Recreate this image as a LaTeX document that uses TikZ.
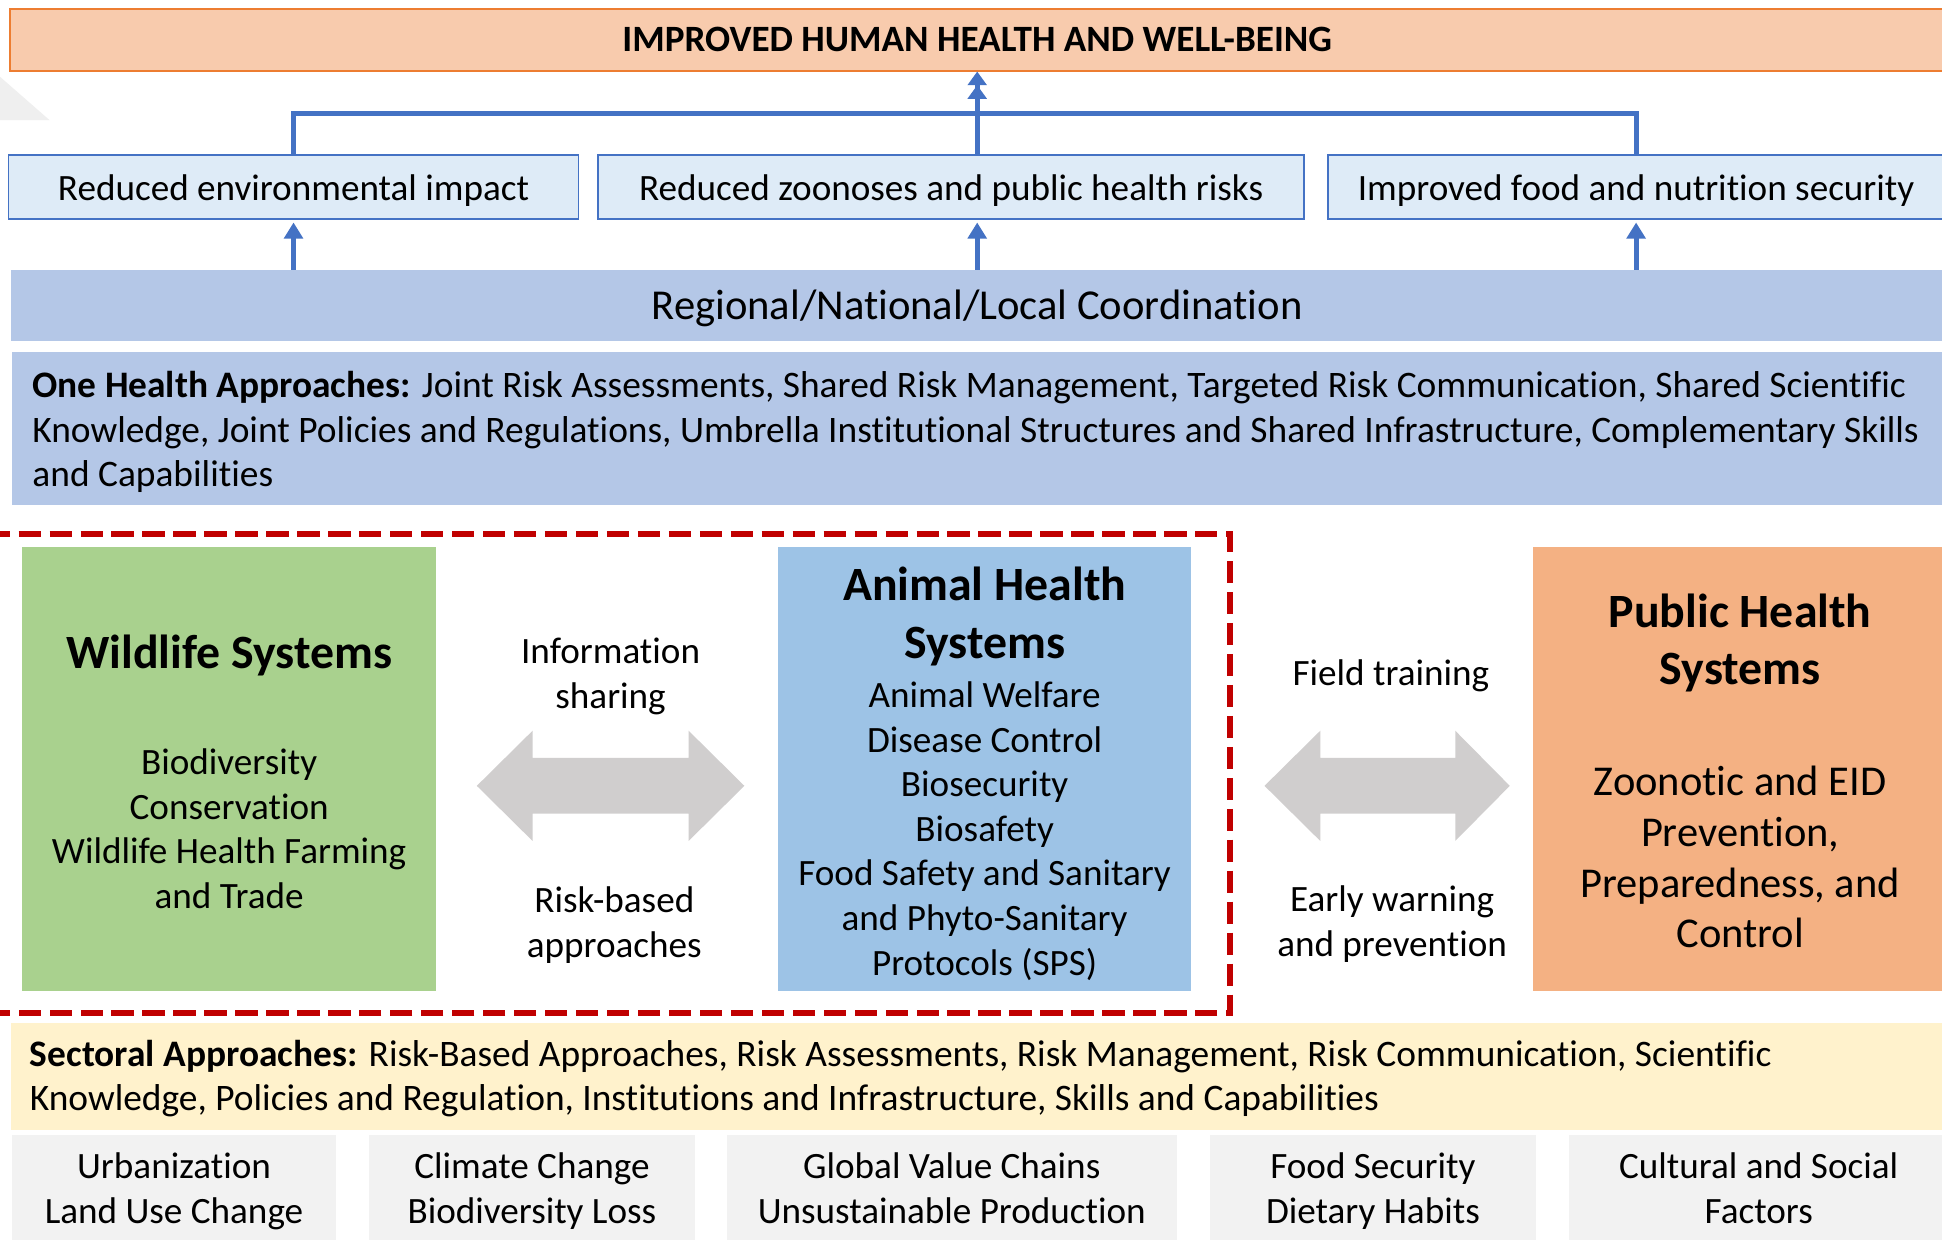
\documentclass[tikz,border=0pt]{standalone}
\usepackage{fontspec}
\setmainfont{Carlito}[Ligatures=NoCommon]
\usetikzlibrary{arrows.meta}
\definecolor{hdrfill}{HTML}{F8CBAD}
\definecolor{hdrline}{HTML}{ED7D31}
\definecolor{blueln}{HTML}{4472C4}
\definecolor{outfill}{HTML}{DEEBF7}
\definecolor{coordfill}{HTML}{B4C7E7}
\definecolor{redln}{HTML}{C00000}
\definecolor{wildfill}{HTML}{A9D18E}
\definecolor{animfill}{HTML}{9DC3E6}
\definecolor{pubfill}{HTML}{F4B183}
\definecolor{arrowgray}{HTML}{D0CECE}
\definecolor{secfill}{HTML}{FFF2CC}
\definecolor{drvfill}{HTML}{F2F2F2}
\definecolor{trifill}{HTML}{EFEFEF}
\tikzset{
  boxbase/.style={rectangle, inner sep=0pt, align=center},
  hdrbox/.style={boxbase, fill=hdrfill, draw=hdrline, line width=1.5pt,
    font=\fontsize{30}{36}\selectfont\bfseries, text height=24pt, text depth=4.8pt},
  outbox/.style={boxbase, fill=outfill, draw=blueln, line width=1.3pt, minimum height=52,
    font=\fontsize{30}{36}\selectfont, text height=25.5pt, text depth=4.3pt},
  bandbox/.style={boxbase, fill=coordfill},
  sysbox/.style={boxbase, minimum width=334, minimum height=358},
  drvbox/.style={boxbase, fill=drvfill, minimum height=93, font=\fontsize{30}{36}\selectfont},
  txt/.style={inner sep=0pt, align=center, font=\fontsize{30}{36}\selectfont},
  ltxt/.style={inner sep=0pt, align=left, anchor=west, font=\fontsize{30.2}{36}\selectfont},
  ttl/.style={inner sep=0pt, align=center, font=\fontsize{38.6}{47}\selectfont\bfseries},
  blueline/.style={draw=blueln, line width=4pt},
  bluearrow/.style={blueline, -{Triangle[width=15pt,length=13pt]}},
  reddash/.style={draw=redln, line width=5pt, dash pattern=on 18pt off 7pt},
  grayarrow/.style={fill=arrowgray}
}
\begin{document}
\begin{tikzpicture}[x=1pt,y=-1pt]
\clip (0,0) rectangle (1568,1001);
\fill[white] (0,0) rectangle (1568,1001);

% faint triangle at left
\fill[trifill] (0,62) -- (40,97) -- (0,97) -- cycle;

% header
\node[hdrbox, minimum width=1562, minimum height=50] (hdr) at (789,32) {IMPROVED HUMAN HEALTH AND WELL-BEING};

% outcome boxes
\node[outbox, minimum width=460] (b1) at (237,151) {Reduced environmental impact};
\node[outbox, minimum width=570] (b2) at (768,151) {Reduced zoonoses and public health risks};
\node[outbox, minimum width=498] (b3) at (1321,151) {Improved food and nutrition security};

% coordination band
\node[bandbox, minimum width=1560, minimum height=57, font=\fontsize{34.4}{40}\selectfont,
  text height=27.5pt, text depth=4.5pt] (coord) at (789,246.5) {Regional/National/Local Coordination};

% one health band
\node[bandbox, minimum width=1560, minimum height=124] (oh) at (790,346) {};
\node[ltxt] (ohtext) at (26,349) {\textbf{One Health Approaches:} Joint Risk Assessments, Shared Risk Management, Targeted Risk Communication, Shared Scientific\\
Knowledge, Joint Policies and Regulations, Umbrella Institutional Structures and Shared Infrastructure, Complementary Skills\\
and Capabilities};

% connectors above outcome boxes
\draw[blueline] (b1.north) -- ++(0,-33) coordinate (jl) -| (b3.north);
\draw[blueline, -{Triangle[width=15pt,length=11pt]Triangle[width=15pt,length=11pt]}] (b2.north -| hdr.south) -- (hdr.south);
% connectors from coordination band to outcome boxes
\draw[bluearrow, shorten >=2pt] (coord.north -| b1.south) -- (b1.south);
\draw[bluearrow, shorten >=2pt] (coord.north) -- (coord.north |- b2.south);
\draw[bluearrow, shorten >=2pt] (coord.north -| b3.south) -- (b3.south);

% systems boxes
\node[sysbox, fill=wildfill] (wild) at (185,621) {};
\node[sysbox, fill=animfill] (anim) at (795,621) {};
\node[sysbox, fill=pubfill, minimum width=332] (pub) at (1404,621) {};

\node[ttl] (wildttl) at (185,529) {Wildlife Systems};
\node[txt] (wildbody) at (185,669) {Biodiversity\\Conservation\\Wildlife Health Farming\\and Trade};

\node[ttl] (animttl) at (795,498) {Animal Health\\Systems};
\node[txt] (animbody) at (795,671) {Animal Welfare\\Disease Control\\Biosecurity\\Biosafety\\Food Safety and Sanitary\\and Phyto-Sanitary\\Protocols (SPS)};

\node[ttl, font=\fontsize{38.6}{46}\selectfont\bfseries] (pubttl) at (1405,519) {Public Health\\Systems};
\node[txt, font=\fontsize{34.3}{41}\selectfont] (pubbody) at (1405,692) {Zoonotic and EID\\Prevention,\\Preparedness, and\\Control};

% gray double arrows
\fill[grayarrow] (385,634.5) -- (430,590) -- (430,612) -- (556,612) -- (556,590) -- (601,634.5)
  -- (556,679) -- (556,657) -- (430,657) -- (430,679) -- cycle;
\fill[grayarrow] (1021,634.5) -- (1066,590) -- (1066,612) -- (1175,612) -- (1175,590) -- (1219,634.5)
  -- (1175,679) -- (1175,657) -- (1066,657) -- (1066,679) -- cycle;

\node[txt] (info) at (493,546) {Information\\sharing};
\node[txt] (riskb) at (496,747) {Risk-based\\approaches};
\node[txt] (field) at (1123,546) {Field training};
\node[txt] (early) at (1124,746) {Early warning\\and prevention};

% red dashed frame
\draw[reddash] (-10,431) -- (993,431) -- (993,818) -- (-10,818);

% sectoral band
\node[bandbox, fill=secfill, minimum width=1561, minimum height=86] (sec) at (789.5,869) {};
\node[ltxt] (sectext) at (24,871) {\textbf{Sectoral Approaches:} Risk-Based Approaches, Risk Assessments, Risk Management, Risk Communication, Scientific\\
Knowledge, Policies and Regulation, Institutions and Infrastructure, Skills and Capabilities};

% drivers
\node[drvbox, minimum width=261] (d1) at (140.5,962.5) {\strut Urbanization\\Land Use Change\strut};
\node[drvbox, minimum width=263] (d2) at (429.5,962.5) {\strut Climate Change\\Biodiversity Loss\strut};
\node[drvbox, minimum width=363] (d3) at (768.5,962.5) {\strut Global Value Chains\\Unsustainable Production\strut};
\node[drvbox, minimum width=263] (d4) at (1108.5,962.5) {\strut Food Security\\Dietary Habits\strut};
\node[drvbox, minimum width=306] (d5) at (1420,962.5) {\strut Cultural and Social\\Factors\strut};
\end{tikzpicture}
\end{document}
